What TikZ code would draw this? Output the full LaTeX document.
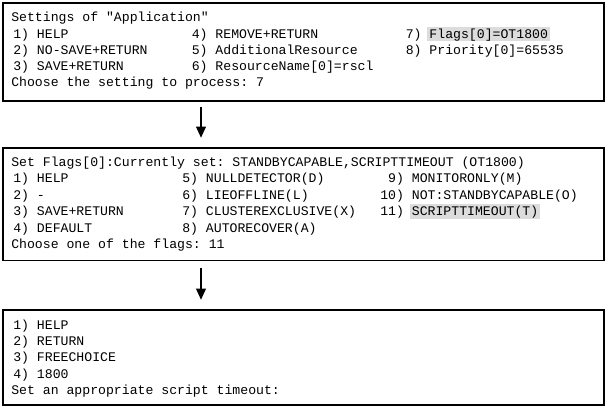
\documentclass[tikz,border=0pt]{standalone}
\usepackage{fontspec}
\setmonofont{Liberation Mono}
\usetikzlibrary{arrows.meta}
\definecolor{hl}{RGB}{220,220,220}
\newcommand\hlt[1]{\hspace{-1.5pt}{\setlength\fboxsep{0pt}\colorbox{hl}{\hspace{1.5pt}\rule[-1.6pt]{0pt}{10.2pt}#1\hspace{1.5pt}}}}
\begin{document}
\begin{tikzpicture}[x=0.75pt,y=-0.75pt,
  txt/.style={anchor=base west, inner sep=0pt, font=\ttfamily\fontsize{9.875pt}{12pt}\selectfont},
  frame/.style={draw=black, line width=1pt},
  arr/.style={line width=2pt, -{Triangle[width=7pt,length=8.5pt]}}]
\useasboundingbox (0,0) rectangle (608,410);
% boxes
\draw[frame] (3,3) rectangle (604,101);
\draw[frame] (3,148) rectangle (604,260.5);
\draw[frame] (3,310) rectangle (604,405);
% box 1
\node[txt] (t1) at (11,21.8) {Settings of "Application"};
\node[txt] (a11) at (13,38.1) {1) HELP};
\node[txt] (a12) at (191.5,38.1) {4) REMOVE+RETURN};
\node[txt] (a13) at (405.5,38.1) {7) \hlt{Flags[0]=OT1800}};
\node[txt] (a21) at (13,54.4) {2) NO-SAVE+RETURN};
\node[txt] (a22) at (191.5,54.4) {5) AdditionalResource};
\node[txt] (a23) at (405.5,54.4) {8) Priority[0]=65535};
\node[txt] (a31) at (13,70.7) {3) SAVE+RETURN};
\node[txt] (a32) at (191.5,70.7) {6) ResourceName[0]=rscl};
\node[txt] (c1) at (11,87) {Choose the setting to process: 7};
% box 2
\node[txt] (t2) at (11,166.3) {Set Flags[0]:Currently set: STANDBYCAPABLE,SCRIPTTIMEOUT (OT1800)};
\node[txt] (b11) at (13,182.8) {1) HELP};
\node[txt] (b12) at (182,182.8) {5) NULLDETECTOR(D)};
\node[txt] (b13) at (380,182.8) {\phantom{1}9) MONITORONLY(M)};
\node[txt] (b21) at (13,199.3) {2) -};
\node[txt] (b22) at (182,199.3) {6) LIEOFFLINE(L)};
\node[txt] (b23) at (380,199.3) {10) NOT:STANDBYCAPABLE(O)};
\node[txt] (b31) at (13,215.8) {3) SAVE+RETURN};
\node[txt] (b32) at (182,215.8) {7) CLUSTEREXCLUSIVE(X)};
\node[txt] (b33) at (380,215.8) {11) \hlt{SCRIPTTIMEOUT(T)}};
\node[txt] (b41) at (13,232.3) {4) DEFAULT};
\node[txt] (b42) at (182,232.3) {8) AUTORECOVER(A)};
\node[txt] (c2) at (11,248.8) {Choose one of the flags: 11};
% box 3
\node[txt] (d1) at (13,329.3) {1) HELP};
\node[txt] (d2) at (13,345.6) {2) RETURN};
\node[txt] (d3) at (13,361.9) {3) FREECHOICE};
\node[txt] (d4) at (13,378.2) {4) 1800};
\node[txt] (c3) at (11,394.5) {Set an appropriate script timeout:};
% arrows
\coordinate (p1s) at (201,107);
\coordinate (p1e) at (201,138);
\coordinate (p2s) at (201,268);
\coordinate (p2e) at (201,300);
\draw[arr] (p1s) -- (p1e);
\draw[arr] (p2s) -- (p2e);
\end{tikzpicture}
\end{document}
